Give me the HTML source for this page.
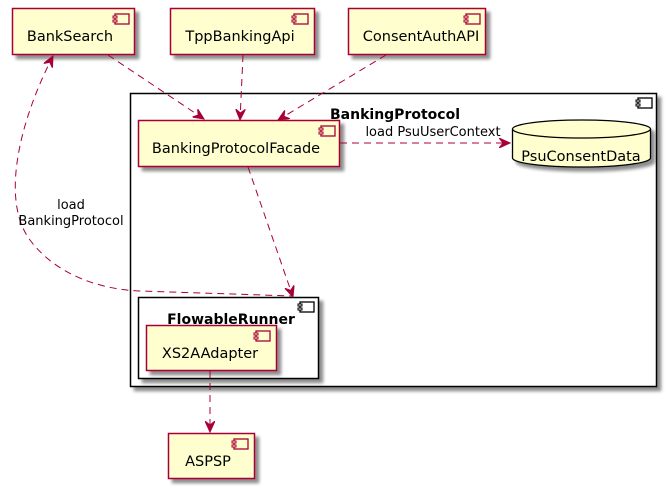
<!DOCTYPE html>
<html><head><meta charset="utf-8"><style>
html,body{margin:0;padding:0;background:#fff;}
svg{display:block;font-family:"DejaVu Sans","Liberation Sans",sans-serif;}
</style></head><body>
<svg width="667" height="488" viewBox="0 0 667 488" xmlns="http://www.w3.org/2000/svg">
<defs>
<filter id="sh" x="-10%" y="-10%" width="130%" height="140%"><feGaussianBlur in="SourceAlpha" stdDeviation="1.6"/><feOffset dx="4" dy="4"/><feComponentTransfer><feFuncA type="linear" slope="0.45"/></feComponentTransfer><feMerge><feMergeNode/><feMergeNode in="SourceGraphic"/></feMerge></filter>
<marker id="ar" viewBox="0 0 12 10" refX="11" refY="5" markerWidth="12" markerHeight="10" markerUnits="userSpaceOnUse" orient="auto-start-reverse"><path d="M0,0 L11,5 L0,10 L4,5 Z" fill="#A80036" stroke="#A80036" stroke-width="1" stroke-dasharray="none"/></marker>
<g id="ic"><rect x="0" y="0" width="14" height="10" fill="none" stroke="#000" stroke-width="1.3"/><rect x="-2" y="2" width="4" height="2" fill="#fff" stroke="#000" stroke-width="1"/><rect x="-2" y="6" width="4" height="2" fill="#fff" stroke="#000" stroke-width="1"/></g>
<g id="icr"><rect x="0" y="0" width="14" height="10" fill="none" stroke="#A80036" stroke-width="1.3"/><rect x="-2" y="2" width="4" height="2" fill="#FEFECE" stroke="#A80036" stroke-width="1"/><rect x="-2" y="6" width="4" height="2" fill="#FEFECE" stroke="#A80036" stroke-width="1"/></g>
</defs>

<rect x="130.5" y="93.5" width="526" height="293" fill="#fff" stroke="#000" stroke-width="1.5" filter="url(#sh)"/>
<use href="#ic" x="638" y="98"/>
<text x="395" y="119" font-size="14" font-weight="bold" text-anchor="middle">BankingProtocol</text>

<rect x="138.5" y="297.5" width="180" height="81" fill="#fff" stroke="#000" stroke-width="1.5" filter="url(#sh)"/>
<use href="#ic" x="300" y="302"/>
<text x="231" y="324" font-size="14" font-weight="bold" text-anchor="middle">FlowableRunner</text>

<g font-size="14.5" fill="#000">
<rect x="12.5" y="8.5" width="122" height="46" fill="#FEFECE" stroke="#A80036" stroke-width="1.5" filter="url(#sh)"/>
<use href="#icr" x="115" y="14"/>
<text x="70" y="41" text-anchor="middle">BankSearch</text>

<rect x="170.5" y="8.5" width="144" height="46" fill="#FEFECE" stroke="#A80036" stroke-width="1.5" filter="url(#sh)"/>
<use href="#icr" x="294" y="14"/>
<text x="240" y="41" text-anchor="middle">TppBankingApi</text>

<rect x="348.5" y="8.5" width="137" height="46" fill="#FEFECE" stroke="#A80036" stroke-width="1.5" filter="url(#sh)"/>
<use href="#icr" x="466" y="14"/>
<text x="421" y="41" text-anchor="middle">ConsentAuthAPI</text>

<rect x="138.5" y="120.5" width="201" height="46" fill="#FEFECE" stroke="#A80036" stroke-width="1.5" filter="url(#sh)"/>
<use href="#icr" x="321" y="126"/>
<text x="236" y="153" text-anchor="middle">BankingProtocolFacade</text>

<rect x="146.5" y="325.5" width="130" height="45" fill="#FEFECE" stroke="#A80036" stroke-width="1.5" filter="url(#sh)"/>
<use href="#icr" x="256" y="331"/>
<text x="210" y="358" text-anchor="middle">XS2AAdapter</text>

<rect x="168.5" y="433.5" width="86" height="45" fill="#FEFECE" stroke="#A80036" stroke-width="1.5" filter="url(#sh)"/>
<use href="#icr" x="234" y="439"/>
<text x="208" y="466" text-anchor="middle">ASPSP</text>

<g filter="url(#sh)">
<path d="M512.5 129 A69 9 0 0 1 650.5 129 L650.5 158 A69 9 0 0 1 512.5 158 Z" fill="#FEFECE" stroke="#000" stroke-width="1.3"/>
<path d="M512.5 129 A69 9 0 0 0 650.5 129" fill="none" stroke="#000" stroke-width="1.3"/>
</g>
<text x="581" y="161" text-anchor="middle">PsuConsentData</text>
</g>

<g fill="none" stroke="#A80036" stroke-width="1" stroke-dasharray="7,5">
<path d="M108 55 L204 119" marker-end="url(#ar)"/>
<path d="M243 55 L240 120" marker-end="url(#ar)"/>
<path d="M386 55 L278 120" marker-end="url(#ar)"/>
<path d="M340 143 L510 143" marker-end="url(#ar)"/>
<path d="M248 167 L293 297" marker-end="url(#ar)"/>
<path d="M210 371 L210 432" marker-end="url(#ar)"/>
<path d="M53 56 C20 120 0 200 30 240 C60 280 110 290 140 291 L293 296" marker-start="url(#ar)"/>
</g>

<g font-size="13" fill="#000">
<text x="433" y="136" text-anchor="middle">load PsuUserContext</text>
<text x="71" y="209" text-anchor="middle">load</text>
<text x="71" y="225" text-anchor="middle">BankingProtocol</text>
</g>
</svg>
</body></html>
